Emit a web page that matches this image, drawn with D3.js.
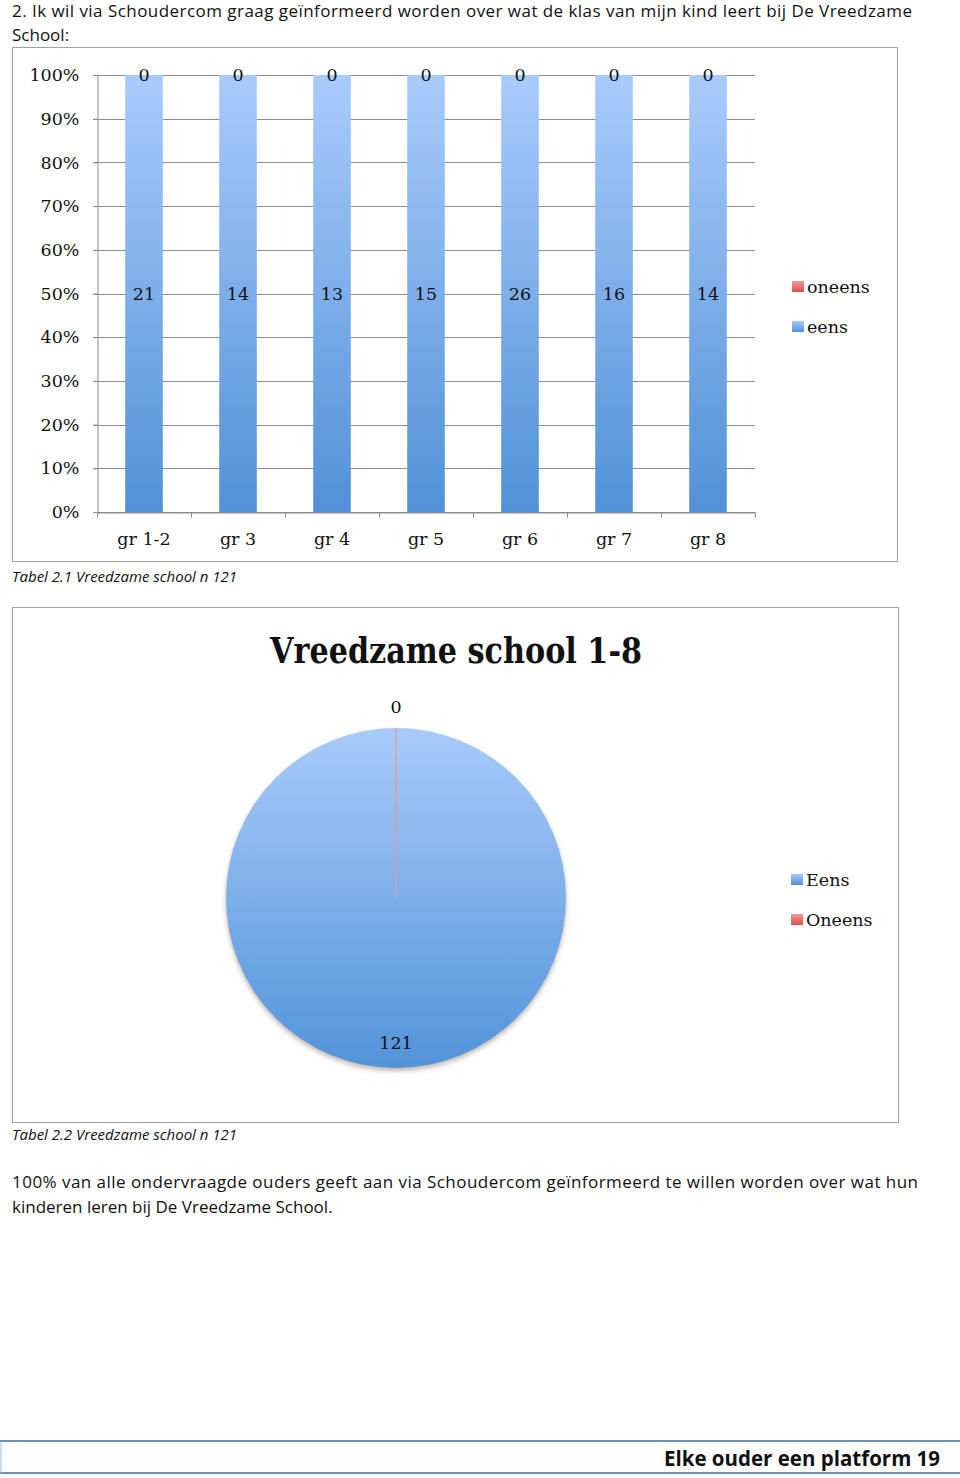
<!DOCTYPE html>
<html lang="nl">
<head>
<meta charset="utf-8">
<title>Vreedzame school</title>
<script src="https://cdnjs.cloudflare.com/ajax/libs/d3/7.8.5/d3.min.js"></script>
<style>
  body { margin: 0; background: #fff; }
  svg text { fill: #111; }
  .serif { font-family: "DejaVu Serif", serif; }
  .sans { font-family: "Open Sans", sans-serif; }
</style>
</head>
<body>
<script>
// chart data
var categories = ["gr 1-2", "gr 3", "gr 4", "gr 5", "gr 6", "gr 7", "gr 8"];
var eens = [21, 14, 13, 15, 26, 16, 14];
var oneens = [0, 0, 0, 0, 0, 0, 0];
var yTicks = [0, 0.1, 0.2, 0.3, 0.4, 0.5, 0.6, 0.7, 0.8, 0.9, 1];
var pieLabels = ["Eens", "Oneens"];
var pieValues = [121, 0];

var W = 960, H = 1478;
var blueTop = "#a9cbfb", blueBottom = "#5191d7";
var redTop = "#f29a98", redBottom = "#d9504c";

var svg = d3.select("body").append("svg")
  .attr("width", W).attr("height", H);

var defs = svg.append("defs");
function vGrad(id, c1, c2, user, y1, y2) {
  var g = defs.append("linearGradient").attr("id", id)
    .attr("x1", 0).attr("x2", 0).attr("y1", user ? y1 : 0).attr("y2", user ? y2 : 1);
  if (user) g.attr("gradientUnits", "userSpaceOnUse");
  g.append("stop").attr("offset", "0%").attr("stop-color", c1);
  g.append("stop").attr("offset", "100%").attr("stop-color", c2);
}
vGrad("gBlue", blueTop, blueBottom);
vGrad("gRed", redTop, redBottom);
var sh = defs.append("filter").attr("id", "shadow")
  .attr("x", "-10%").attr("y", "-10%").attr("width", "120%").attr("height", "125%");
sh.append("feDropShadow").attr("dx", 0).attr("dy", 3).attr("stdDeviation", 2.5)
  .attr("flood-color", "#8a7a6a").attr("flood-opacity", 0.55);

// page text
svg.append("text").attr("class", "sans").attr("x", 12).attr("y", 17)
  .attr("font-size", 17).attr("textLength", 900).attr("lengthAdjust", "spacing")
  .text("2. Ik wil via Schoudercom graag geïnformeerd worden over wat de klas van mijn kind leert bij De Vreedzame");
svg.append("text").attr("class", "sans").attr("x", 12).attr("y", 41)
  .attr("font-size", 17).text("School:");

// ---------- bar chart ----------
svg.append("rect").attr("x", 12.5).attr("y", 47.5).attr("width", 885).attr("height", 514)
  .attr("fill", "none").attr("stroke", "#a0a0a0");

var x = d3.scaleBand().domain(categories).range([97, 755]).paddingInner(0.6).paddingOuter(0.3);
var y = d3.scaleLinear().domain([0, 1]).range([512, 75]);

// gridlines
svg.append("g").selectAll("line").data(yTicks).join("line")
  .attr("x1", 93).attr("x2", 755)
  .attr("y1", d => Math.round(y(d)) + 0.5).attr("y2", d => Math.round(y(d)) + 0.5)
  .attr("stroke", "#8c8c8c");

var rows = categories.map((c, i) => ({ cat: c, eens: eens[i], oneens: oneens[i] }));
var stack = d3.stack().keys(["eens", "oneens"]).offset(d3.stackOffsetExpand);
var series = stack(rows);

svg.append("g").selectAll("g").data(series).join("g")
  .attr("fill", d => d.key === "eens" ? "url(#gBlue)" : "url(#gRed)")
  .selectAll("rect").data(d => d).join("rect")
  .attr("x", d => x(d.data.cat))
  .attr("y", d => y(d[1]))
  .attr("width", x.bandwidth())
  .attr("height", d => y(d[0]) - y(d[1]));

// axes
var yAxis = d3.axisLeft(y).tickValues(yTicks).tickFormat(d3.format(".0%"))
  .tickSize(4).tickPadding(14);
var gy = svg.append("g").attr("transform", "translate(97.5,0)").call(yAxis);
gy.select(".domain").attr("stroke", "#8c8c8c");
gy.selectAll(".tick line").attr("stroke", "#8c8c8c");
gy.selectAll("text").attr("class", "serif").attr("font-size", 17.5).attr("fill", "#111");

var xAxis = d3.axisBottom(x).tickSize(0).tickPadding(20);
var gx = svg.append("g").attr("transform", "translate(0," + (Math.round(y(0)) + 0.5) + ")").call(xAxis);
gx.select(".domain").attr("stroke", "#8c8c8c");
gx.selectAll("text").attr("class", "serif").attr("font-size", 17.5).attr("fill", "#111");
var half = (x.step() - x.bandwidth()) / 2;
var bounds = categories.map(c => x(c) - half).concat([x(categories[categories.length - 1]) + x.bandwidth() + half]);
gx.append("g").selectAll("line").data(bounds).join("line")
  .attr("x1", d => Math.round(d) + 0.5).attr("x2", d => Math.round(d) + 0.5)
  .attr("y1", 0).attr("y2", 5).attr("stroke", "#8c8c8c");

// value labels
svg.append("g").selectAll("g").data(series).join("g")
  .selectAll("text").data(d => d).join("text")
  .attr("class", "serif").attr("font-size", 17.5).attr("text-anchor", "middle")
  .attr("dominant-baseline", "central")
  .attr("x", d => x(d.data.cat) + x.bandwidth() / 2)
  .attr("y", d => y((d[0] + d[1]) / 2))
  .text(function (d) { return d.data[d3.select(this.parentNode).datum().key]; });

// legend
var barLegend = [{ k: "oneens", f: "url(#gRed)" }, { k: "eens", f: "url(#gBlue)" }];
var lg = svg.append("g").selectAll("g").data(barLegend).join("g")
  .attr("transform", (d, i) => "translate(792," + (281 + i * 40) + ")");
lg.append("rect").attr("width", 12).attr("height", 11).attr("fill", d => d.f);
lg.append("text").attr("class", "serif").attr("font-size", 17.5).attr("x", 15).attr("y", 12).text(d => d.k);

svg.append("text").attr("class", "sans").attr("x", 12).attr("y", 582)
  .attr("font-size", 15).attr("font-style", "italic").text("Tabel 2.1 Vreedzame school n 121");

// ---------- pie chart ----------
svg.append("rect").attr("x", 12.5).attr("y", 607.5).attr("width", 886).attr("height", 515)
  .attr("fill", "none").attr("stroke", "#a0a0a0");

svg.append("text").attr("class", "serif").attr("x", 456).attr("y", 663)
  .attr("text-anchor", "middle").attr("font-size", 35).attr("font-weight", "bold")
  .attr("textLength", 372).attr("lengthAdjust", "spacingAndGlyphs")
  .text("Vreedzame school 1-8");

var cx = 396, cy = 898, R = 170;
vGrad("gPie", "#a8cbfa", "#5393d9", true, -R, R);
var pieData = pieLabels.map((l, i) => ({ label: l, value: pieValues[i] }));
var pie = d3.pie().value(d => d.value).sort(null);
var arcs = pie(pieData);
var arc = d3.arc().innerRadius(0).outerRadius(R);

var pg = svg.append("g").attr("transform", "translate(" + cx + "," + cy + ")");
pg.append("g").attr("filter", "url(#shadow)").selectAll("path").data(arcs).join("path")
  .attr("d", arc)
  .attr("fill", d => d.data.label === "Eens" ? "url(#gPie)" : "url(#gRed)")
  .attr("stroke", d => d.data.label === "Eens" ? "none" : "#e59a9a")
  .attr("stroke-width", 0.8);

var inArc = d3.arc().innerRadius(R * 0.85).outerRadius(R * 0.85);
var outArc = d3.arc().innerRadius(R + 21).outerRadius(R + 21);
pg.selectAll("text").data(arcs).join("text")
  .attr("class", "serif").attr("font-size", 17.5).attr("text-anchor", "middle")
  .attr("dominant-baseline", "central")
  .attr("transform", d => "translate(" + (d.value > 0 ? inArc : outArc).centroid(d) + ")")
  .text(d => d.value);

var pl = svg.append("g").selectAll("g").data(pieData).join("g")
  .attr("transform", (d, i) => "translate(791," + (874 + i * 40) + ")");
pl.append("rect").attr("width", 12).attr("height", 11)
  .attr("fill", d => d.label === "Eens" ? "url(#gBlue)" : "url(#gRed)");
pl.append("text").attr("class", "serif").attr("font-size", 17.5).attr("x", 15).attr("y", 12).text(d => d.label);

svg.append("text").attr("class", "sans").attr("x", 12).attr("y", 1140)
  .attr("font-size", 15).attr("font-style", "italic").text("Tabel 2.2 Vreedzame school n 121");

// closing paragraph
svg.append("text").attr("class", "sans").attr("x", 12).attr("y", 1188)
  .attr("font-size", 17).attr("textLength", 906).attr("lengthAdjust", "spacing")
  .text("100% van alle ondervraagde ouders geeft aan via Schoudercom geïnformeerd te willen worden over wat hun");
svg.append("text").attr("class", "sans").attr("x", 12).attr("y", 1213)
  .attr("font-size", 17).text("kinderen leren bij De Vreedzame School.");

// footer
svg.append("line").attr("x1", 0).attr("x2", 960).attr("y1", 1441).attr("y2", 1441)
  .attr("stroke", "#6f8fbf").attr("stroke-width", 2);
svg.append("line").attr("x1", 0).attr("x2", 960).attr("y1", 1473).attr("y2", 1473)
  .attr("stroke", "#6f8fbf").attr("stroke-width", 2);
svg.append("line").attr("x1", 1).attr("x2", 1).attr("y1", 1441).attr("y2", 1473)
  .attr("stroke", "#9fb4d6").attr("stroke-width", 1);
svg.append("text").attr("class", "sans").attr("x", 940).attr("y", 1466)
  .attr("text-anchor", "end").attr("font-size", 21).attr("font-weight", "bold")
  .attr("textLength", 276).attr("lengthAdjust", "spacingAndGlyphs")
  .text("Elke ouder een platform 19");
</script>
</body>
</html>
